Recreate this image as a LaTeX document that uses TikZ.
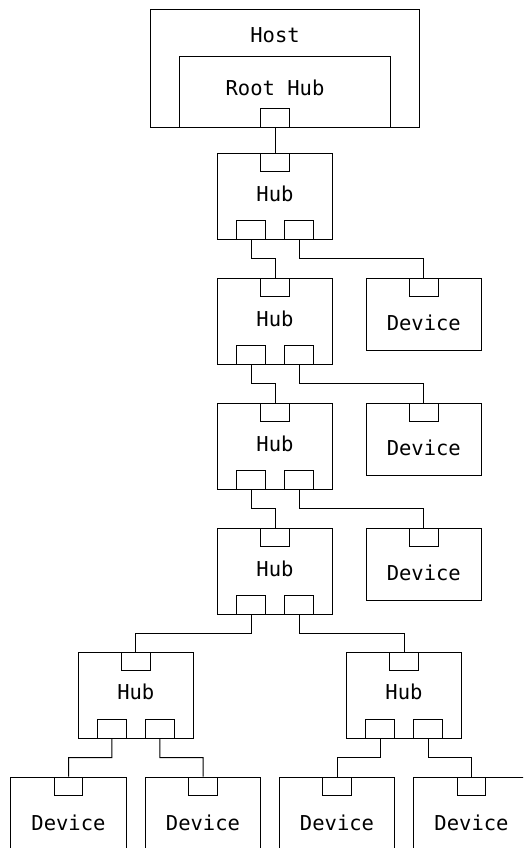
\documentclass[tikz,border=0pt]{standalone}
\usepackage{fontspec}
\newfontfamily\diagmono{DejaVu Sans Mono}
\usetikzlibrary{calc}
\begin{document}
\begin{tikzpicture}[x=1pt,y=-1pt, line width=1pt,
  hubbox/.style={draw, inner sep=0pt, minimum width=115pt, minimum height=86pt},
  devbox/.style={draw, inner sep=0pt, minimum width=115.5pt, minimum height=72pt},
  port/.style={draw, fill=white, inner sep=0pt, minimum width=28.5pt, minimum height=18.5pt},
  lbl/.style={font=\diagmono\fontsize{20.5}{24}\selectfont, anchor=base, inner sep=0pt},
  elbow/.style={to path={-- ($(\tikztostart)!0.5!(\tikztostart|-\tikztotarget)$) -| (\tikztotarget)}}]
\useasboundingbox (0,0) rectangle (523,848);
\fill[white] (0,0) rectangle (523,848);
\clip (0,0) rectangle (523,848);

% Host and root hub
\node[draw, inner sep=0pt, minimum width=269.3pt, minimum height=118.5pt] (host) at (284.7,68.75) {};
\node[draw, inner sep=0pt, minimum width=211pt, minimum height=71pt] (root) at (284.5,92.5) {};
\node[lbl] (hostlbl) at (275,42.7) {Host};
\node[lbl] (rootlbl) at (275,95.7) {Root Hub};
\node[port, anchor=south] (rp) at (275,128) {};

% chain of hubs
\foreach \n/\y in {1/196,2/321,3/446,4/571}{
  \node[hubbox] (h\n) at (275,\y) {};
  \node[port, anchor=north] (h\n t) at (h\n.north) {};
  \node[port, anchor=south] (h\n l) at ([xshift=-24pt]h\n.south) {};
  \node[port, anchor=south] (h\n r) at ([xshift=24pt]h\n.south) {};
  \node[lbl] (h\n lbl) at ([yshift=-49pt]h\n.north) {Hub};
}
% devices beside the chain
\foreach \n/\y in {1/314,2/439,3/564}{
  \node[devbox] (d\n) at (423.8,\y) {};
  \node[port, anchor=north] (d\n t) at (d\n.north) {};
  \node[lbl] (d\n lbl) at ([yshift=-53pt]d\n.north) {Device};
}
% bottom hubs
\foreach \n/\x in {L/135.8,R/404}{
  \node[hubbox] (h\n) at (\x,695) {};
  \node[port, anchor=north] (h\n t) at (h\n.north) {};
  \node[port, anchor=south] (h\n l) at ([xshift=-24pt]h\n.south) {};
  \node[port, anchor=south] (h\n r) at ([xshift=24pt]h\n.south) {};
  \node[lbl] (h\n lbl) at ([yshift=-48pt]h\n.north) {Hub};
}
% bottom devices
\foreach \n/\x in {1/68.5,2/203,3/337,4/471.5}{
  \node[devbox] (b\n) at (\x,813) {};
  \node[port, anchor=north] (b\n t) at (b\n.north) {};
  \node[lbl] (b\n lbl) at ([yshift=-54pt]b\n.north) {Device};
}

% connectors
\draw (rp.south) -- (h1t.north);
\draw (h1l.south) to[elbow] (h2t.north);
\draw (h1r.south) to[elbow] (d1t.north);
\draw (h2l.south) to[elbow] (h3t.north);
\draw (h2r.south) to[elbow] (d2t.north);
\draw (h3l.south) to[elbow] (h4t.north);
\draw (h3r.south) to[elbow] (d3t.north);
\draw (h4l.south) to[elbow] (hLt.north);
\draw (h4r.south) to[elbow] (hRt.north);
\draw (hLl.south) to[elbow] (b1t.north);
\draw (hLr.south) to[elbow] (b2t.north);
\draw (hRl.south) to[elbow] (b3t.north);
\draw (hRr.south) to[elbow] (b4t.north);
\end{tikzpicture}
\end{document}
